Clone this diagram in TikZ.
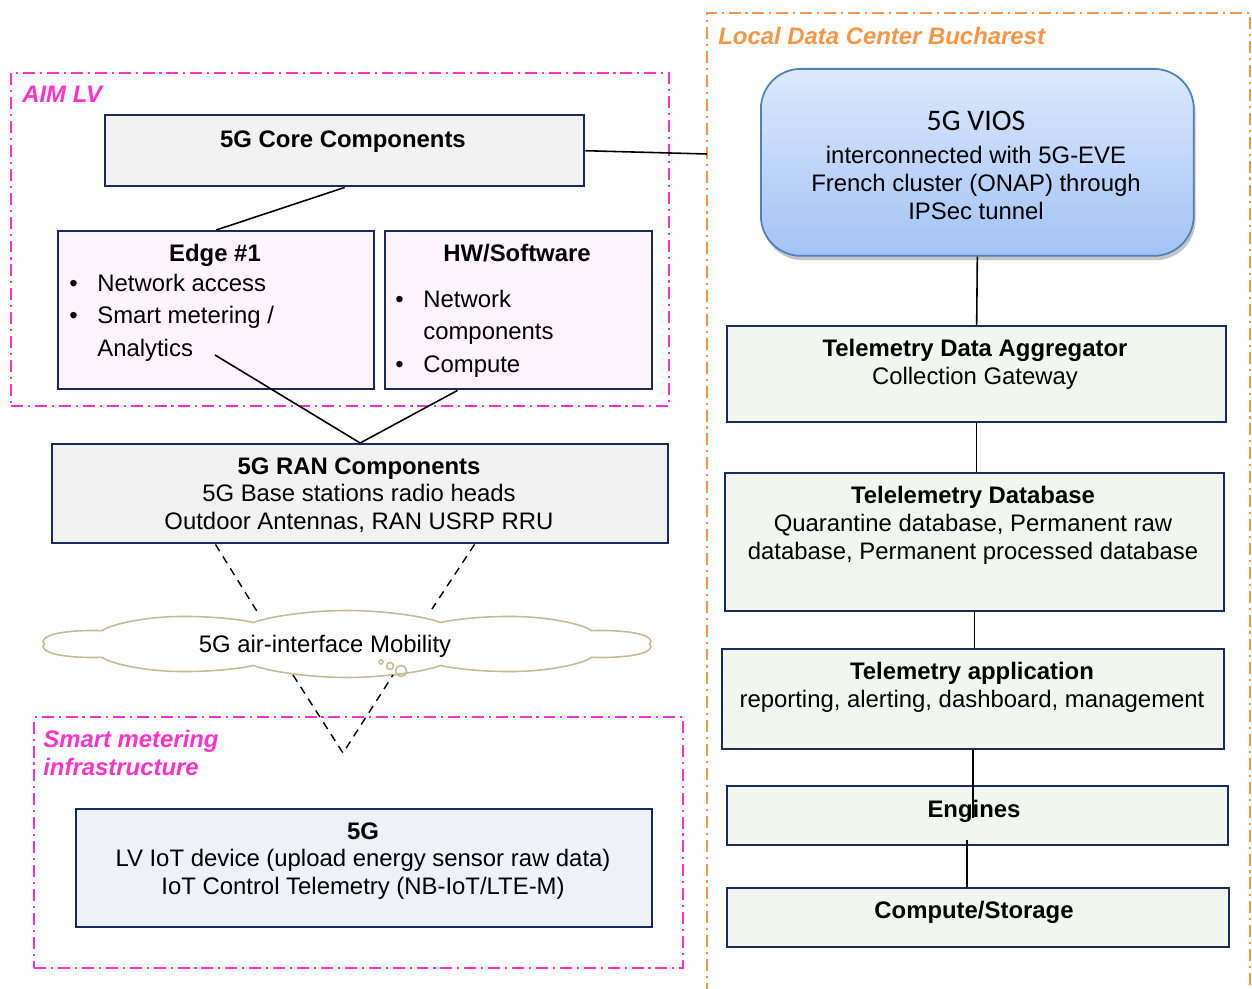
\documentclass[tikz,border=0pt]{standalone}
\usepackage{fontspec}
\setmainfont{Liberation Sans}
\newfontfamily\viosfont{Carlito}
\usetikzlibrary{positioning,calc,shapes.symbols,shadows}
\definecolor{navy}{HTML}{172B5E}
\definecolor{aimpink}{HTML}{FF33CC}
\definecolor{ldcorange}{HTML}{F79646}
\definecolor{corefill}{HTML}{F2F2F2}
\definecolor{edgefill}{HTML}{FDF4FD}
\definecolor{devfill}{HTML}{EEF2F8}
\definecolor{telefill}{HTML}{F3F6EE}
\definecolor{cloudline}{HTML}{C4BC96}
\definecolor{viostop}{HTML}{DDE9FC}
\definecolor{viosbot}{HTML}{A3C2F5}
\definecolor{viosline}{HTML}{4F81BD}
\newcommand{\blt}{\makebox[0.56cm][l]{\textbullet}}

\begin{document}
\begin{tikzpicture}[x=0.02cm, y=-0.02cm,
    box/.style={draw=navy, line width=1.4pt, anchor=north west, inner sep=0pt},
    txt/.style={inner sep=0pt, align=center, anchor=north,
      font=\fontsize{13.6}{15.9}\selectfont},
    listtxt/.style={inner sep=0pt, align=left, anchor=north west,
      font=\fontsize{13.6}{18.4}\selectfont},
    grouplabel/.style={inner sep=0pt, align=left, anchor=north west,
      font=\fontsize{13.6}{15.9}\selectfont\bfseries\itshape},
    groupframe/.style={line width=1.4pt,
      dash pattern=on 6.8pt off 2.8pt on 1.2pt off 2.8pt},
    link/.style={draw=black, line width=0.9pt},
    airlink/.style={draw=black, line width=0.8pt, dash pattern=on 4.5pt off 3.5pt}
  ]
  \useasboundingbox (0,0) rectangle (1252,989);

  % group frames
  \node[groupframe, draw=aimpink, anchor=north west, inner sep=0pt,
    minimum width=13.16cm, minimum height=6.66cm] (aimlv) at (10,72) {};
  \node[groupframe, draw=aimpink, anchor=north west, inner sep=0pt,
    minimum width=12.98cm, minimum height=5.02cm] (smartinfra) at (33,716) {};
  \draw[groupframe, draw=ldcorange] (707,995) -- (707,13) -- (1250,13) -- (1250,995);
  \coordinate (ldcedge) at (707,154);

  \node[grouplabel, text=aimpink] (aimlabel) at (22,86) {AIM LV};
  \node[grouplabel, text=aimpink] (smartlabel) at (43,730) {Smart metering\\infrastructure};
  \node[grouplabel, text=ldcorange] (ldclabel) at (718,27) {Local Data Center Bucharest};

  % AIM LV side
  \node[box, fill=corefill, minimum width=9.58cm, minimum height=1.42cm] (core) at (104,114) {};
  \node[box, fill=edgefill, minimum width=6.32cm, minimum height=3.16cm] (edge) at (57,230) {};
  \node[box, fill=edgefill, minimum width=5.34cm, minimum height=3.16cm] (hw) at (384,230) {};
  \node[box, fill=corefill, minimum width=12.32cm, minimum height=1.98cm] (ran) at (51,443) {};
  \node[cloud, draw=cloudline, fill=white, line width=0.9pt, cloud puffs=10,
    cloud puff arc=120, aspect=2, inner sep=0pt, transform shape, xscale=4.5,
    minimum width=2.72cm, minimum height=1.34cm] (air) at (347,644) {};
  \draw[cloudline, line width=0.9pt] (381,662) circle[radius=0.04cm]
    (390,666) circle[radius=0.07cm] (401,671) circle[radius=0.11cm];
  \node[box, fill=devfill, minimum width=11.52cm, minimum height=2.36cm] (device) at (75,808) {};

  \node[txt] (coretxt) at (343,130) {\textbf{5G Core Components}};
  \node[txt] (edgetitle) at (215,244) {\textbf{Edge \#1}};
  \node[listtxt] (edgelist) at (69,274) {\blt Network access\\\blt Smart metering /\\\hspace*{0.56cm}Analytics};
  \node[txt] (hwtitle) at (517,244) {\textbf{HW/Software}};
  \node[listtxt] (hwlist) at (395,290) {\blt Network\\\hspace*{0.56cm}components\\\blt Compute};
  \node[txt] (rantxt) at (359,457) {\textbf{5G RAN Components}\\5G Base stations radio heads\\Outdoor Antennas, RAN USRP RRU};
  \node[txt] (airtxt) at (325,635) {5G air-interface Mobility};
  \node[txt] (devtxt) at (363,822) {\textbf{5G}\\LV IoT device (upload energy sensor raw data)\\IoT Control Telemetry (NB-IoT/LTE-M)};

  % data center side
  \node[anchor=north west, inner sep=0pt, rounded corners=0.8cm, draw=viosline,
    line width=1pt, top color=viostop, bottom color=viosbot,
    drop shadow={shadow xshift=1pt, shadow yshift=-2.5pt, fill=black!45},
    minimum width=8.66cm, minimum height=3.74cm] (vios) at (760,68) {};
  \node[box, fill=telefill, minimum width=9.98cm, minimum height=1.92cm] (agg) at (726,325) {};
  \node[box, fill=telefill, minimum width=9.98cm, minimum height=2.76cm] (db) at (724,472) {};
  \node[box, fill=telefill, minimum width=10.04cm, minimum height=2.0cm] (app) at (721,648) {};
  \node[box, fill=telefill, minimum width=10.02cm, minimum height=1.18cm] (engines) at (726,785) {};
  \node[box, fill=telefill, minimum width=10.04cm, minimum height=1.18cm] (storage) at (726,887) {};

  \node[txt] (viostxt) at (976,111) {{\viosfont\fontsize{17}{20}\selectfont 5G VIOS}\\[3pt]interconnected with 5G-EVE\\French cluster (ONAP) through\\IPSec tunnel};
  \node[txt] (aggtxt) at (975,339) {\textbf{Telemetry Data Aggregator}\\Collection Gateway};
  \node[txt] (dbtxt) at (973,486) {\textbf{Telelemetry Database}\\Quarantine database, Permanent raw\\database, Permanent processed database};
  \node[txt] (apptxt) at (972,662) {\textbf{Telemetry application}\\reporting, alerting, dashboard, management};
  \node[txt] (enginestxt) at (974,800) {\textbf{Engines}};
  \node[txt] (storagetxt) at (974,901) {\textbf{Compute/Storage}};

  % connectors
  \coordinate (edgein) at (215,355);
  \coordinate (airtl) at (258,613);
  \coordinate (airtr) at (432,609);
  \coordinate (airbl) at (293,675);
  \coordinate (airbr) at (393,675);
  \coordinate (apex) at (343,753);
  \coordinate (engin) at (970,818);
  \coordinate (engout) at (967,840);

  \draw[link] (core.east) -- (ldcedge);
  \draw[link] (core.south) -- (edge.north);
  \draw[link] (edgein) -- (ran.north);
  \draw[link] ($(hw.south west)!0.273!(hw.south east)$) -- (ran.north);
  \draw[airlink] ($(ran.south west)!0.266!(ran.south east)$) -- (airtl);
  \draw[airlink] ($(ran.south west)!0.685!(ran.south east)$) -- (airtr);
  \draw[airlink] (airbl) -- (apex) -- (airbr);

  \draw[link] (vios.south) -- (agg.north);
  \draw[link] (agg.south) -- (agg.south |- db.north);
  \draw[link] (db.south) -- (db.south |- app.north);
  \draw[link] (app.south) -- (app.south |- engin);
  \draw[link] (engout) -- (engout |- storage.north);
\end{tikzpicture}
\end{document}
